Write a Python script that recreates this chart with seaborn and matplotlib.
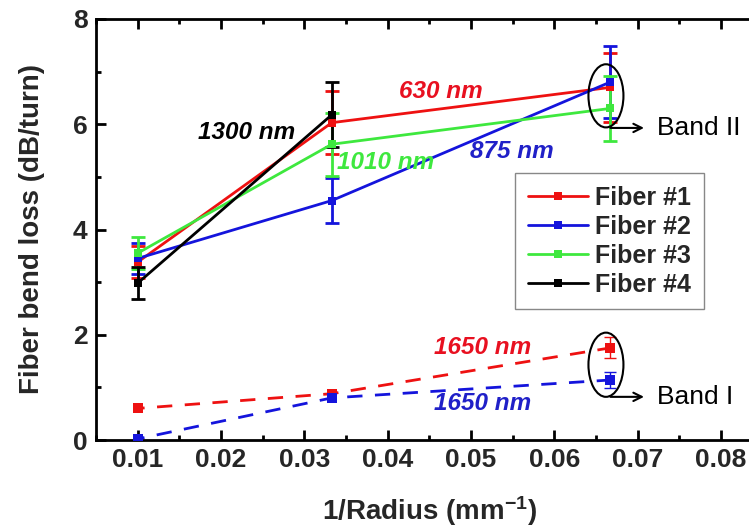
import numpy as np
import pandas as pd
import matplotlib
matplotlib.use("Agg")
import matplotlib.pyplot as plt
import seaborn as sns
from matplotlib.lines import Line2D
from matplotlib.patches import Ellipse

# ---------------- data ----------------
inv_radius = [0.01, 0.0333, 0.0667]
fiber_names = ["Fiber #1", "Fiber #2", "Fiber #3", "Fiber #4"]
fiber1_loss = [3.38, 6.03, 6.70]
fiber1_err = [0.30, 0.60, 0.66]
fiber2_loss = [3.45, 4.55, 6.80]
fiber2_err = [0.30, 0.43, 0.68]
fiber3_loss = [3.55, 5.62, 6.30]
fiber3_err = [0.30, 0.60, 0.62]
fiber4_x = [0.01, 0.0333]
fiber4_loss = [2.98, 6.18]
fiber4_err = [0.30, 0.62]

band1_red_loss = [0.60, 0.88, 1.75]
band1_red_err = [0.0, 0.0, 0.20]
band1_blue_loss = [0.02, 0.80, 1.14]
band1_blue_err = [0.0, 0.0, 0.15]

x_ticks = [0.01, 0.02, 0.03, 0.04, 0.05, 0.06, 0.07, 0.08]
y_ticks = [0, 2, 4, 6, 8]

colors = {"Fiber #1": "#ee1111", "Fiber #2": "#1414dc", "Fiber #3": "#3ee83e", "Fiber #4": "#000000"}

# ---------------- style ----------------
sns.set_theme(style="ticks")
plt.rcParams["font.family"] = ["Liberation Sans", "DejaVu Sans"]
plt.rcParams["mathtext.fontset"] = "custom"
plt.rcParams["mathtext.rm"] = "Liberation Sans:bold"
plt.rcParams["mathtext.bf"] = "Liberation Sans:bold"
plt.rcParams["mathtext.it"] = "Liberation Sans:bold:italic"
plt.rcParams["mathtext.default"] = "bf"

fig = plt.figure(figsize=(7.49, 5.31), dpi=100)
ax = fig.add_axes([96 / 749, 91 / 531, 666.6 / 749, 421 / 531])

# ---------------- band II (solid) ----------------
rows = []
for name, xs, ys, es in [
    ("Fiber #1", inv_radius, fiber1_loss, fiber1_err),
    ("Fiber #2", inv_radius, fiber2_loss, fiber2_err),
    ("Fiber #3", inv_radius, fiber3_loss, fiber3_err),
    ("Fiber #4", fiber4_x, fiber4_loss, fiber4_err),
]:
    for xv, yv, ev in zip(xs, ys, es):
        rows.append({"fiber": name, "x": xv, "y": yv, "err": ev})
df = pd.DataFrame(rows)

for name in fiber_names:
    d = df[df.fiber == name]
    ax.errorbar(d.x, d.y, yerr=d.err, fmt="none", ecolor=colors[name],
                elinewidth=2, capsize=5, capthick=2, zorder=2)

sns.lineplot(data=df, x="x", y="y", hue="fiber", palette=colors, hue_order=fiber_names,
             marker="s", markersize=6, markeredgewidth=0, linewidth=2,
             errorbar=None, legend=False, ax=ax, zorder=3)

# ---------------- band I (dashed) ----------------
rows_b = []
for name, ys, es in [("red", band1_red_loss, band1_red_err), ("blue", band1_blue_loss, band1_blue_err)]:
    for xv, yv, ev in zip(inv_radius, ys, es):
        rows_b.append({"series": name, "x": xv, "y": yv, "err": ev})
dfb = pd.DataFrame(rows_b)
bcol = {"red": "#ee1111", "blue": "#1414dc"}
for name in ["red", "blue"]:
    d = dfb[(dfb.series == name) & (dfb.err > 0)]
    ax.errorbar(d.x, d.y, yerr=d.err, fmt="none", ecolor=bcol[name],
                elinewidth=1, capsize=4, capthick=1, zorder=2)
sns.lineplot(data=dfb, x="x", y="y", hue="series", palette=bcol, hue_order=["red", "blue"],
             marker="s", markersize=7, markeredgewidth=0, linewidth=2,
             linestyle=(3, (5.5, 4.5)), errorbar=None, legend=False, ax=ax, zorder=3)

# ---------------- axes ----------------
ax.set_xlim(0.005, 0.085)
ax.set_ylim(0, 8)
ax.set_xticks(x_ticks)
ax.set_xticklabels([f"{v:.2f}" for v in x_ticks])
ax.set_yticks(y_ticks)
ax.set_xticks(np.arange(0.005, 0.0851, 0.005), minor=True)
ax.set_yticks([1, 3, 5, 7], minor=True)
for lab in ax.get_xticklabels() + ax.get_yticklabels():
    lab.set_fontweight("bold")
    lab.set_fontsize(19)
ax.tick_params(which="both", direction="in", top=True, right=True, width=2, color="black")
ax.tick_params(which="major", length=7, pad=6)
ax.tick_params(which="minor", length=3.5)
for sp in ax.spines.values():
    sp.set_linewidth(2)
    sp.set_color("black")

ax.set_xlabel(r"1/Radius (mm$^{\mathbf{-1}}$)", fontsize=20, fontweight="bold", labelpad=16)
ax.set_ylabel("Fiber bend loss (dB/turn)", fontsize=20, fontweight="bold", labelpad=20)

# ---------------- annotations ----------------
lab_kw = dict(fontsize=17.5, fontweight="bold", fontstyle="italic", ha="center", va="center")
ax.text(0.0464, 6.63, "630 nm", color="#e81020", **lab_kw)
ax.text(0.0549, 5.48, "875 nm", color="#2020c8", **lab_kw)
ax.text(0.0398, 5.27, "1010 nm", color="#3ee83e", **lab_kw)
ax.text(0.0231, 5.84, "1300 nm", color="black", **lab_kw)
ax.text(0.0514, 1.75, "1650 nm", color="#e81020", **lab_kw)
ax.text(0.0514, 0.70, "1650 nm", color="#2020c8", **lab_kw)

ax.add_patch(Ellipse((0.0662, 6.54), 0.0042, 1.2, fill=False, edgecolor="black", linewidth=1.5, zorder=5))
ax.add_patch(Ellipse((0.0662, 1.43), 0.0042, 1.22, fill=False, edgecolor="black", linewidth=1.5, zorder=5))
for yv in [5.93, 0.82]:
    ax.annotate("", xy=(0.0711, yv), xytext=(0.0664, yv),
                arrowprops=dict(arrowstyle="->", color="black", lw=1.5, mutation_scale=15))
ax.text(0.0723, 5.93, "Band II", fontsize=19, ha="left", va="center", color="black")
ax.text(0.0723, 0.82, "Band I", fontsize=19, ha="left", va="center", color="black")

# ---------------- legend ----------------
handles = [Line2D([0], [0], color=colors[n], lw=2, marker="s", markersize=6, markeredgewidth=0)
           for n in fiber_names]
leg = ax.legend(handles, fiber_names, loc="upper left", bbox_to_anchor=(0.6286, 0.634),
                borderaxespad=0, frameon=True, fancybox=False, edgecolor="#888888",
                prop={"weight": "bold", "size": 18}, handlelength=2.4, handletextpad=0.3,
                labelspacing=0.2, borderpad=0.5)
leg.get_frame().set_linewidth(1)
leg.get_frame().set_alpha(1)

fig.savefig("out.png", dpi=100)
